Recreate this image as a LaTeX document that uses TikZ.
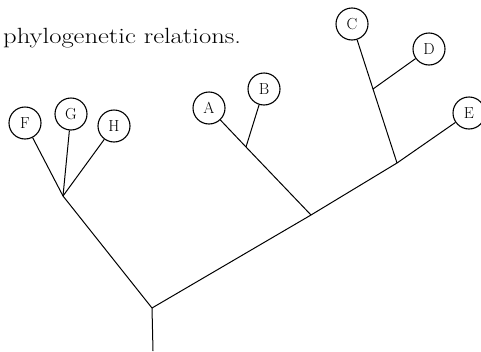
\documentclass[tikz,border=0pt]{standalone}
\usepackage{fontspec}
\usepackage{graphicx}
\begin{document}
\begin{tikzpicture}[x=1pt,y=-1pt,
  taxon/.style={circle,draw,line width=1.1pt,minimum size=32pt,inner sep=0pt,
    font=\fontsize{16}{16}\selectfont},
  branch/.style={line width=1pt},
  caption/.style={anchor=base west,inner sep=0pt,font=\fontsize{22}{24}\selectfont}]
\useasboundingbox (0,0) rectangle (481,351);

% heading
\node[caption] (title) at (3,43) {\scalebox{1.21}[1]{phylogenetic relations.}};

% terminal taxa
\node[taxon] (F) at (25,123) {F};
\node[taxon] (G) at (71,114) {G};
\node[taxon] (H) at (114,126) {H};
\node[taxon] (A) at (209,108) {A};
\node[taxon] (B) at (264,89) {B};
\node[taxon] (C) at (352,24) {C};
\node[taxon] (D) at (429,49) {D};
\node[taxon] (E) at (469,113) {E};

% internal branching points
\coordinate (base) at (153,351);
\coordinate (root) at (152,308);
\coordinate (fgh) at (63,196);
\coordinate (ab) at (311,215);
\coordinate (abs) at (246,147);
\coordinate (cde) at (397,163);
\coordinate (cd) at (373,89);

% branches
\draw[branch] (base) -- (root);
\draw[branch] (root) -- (fgh);
\draw[branch] (fgh) -- (F);
\draw[branch] (fgh) -- (G);
\draw[branch] (fgh) -- (H);
\draw[branch] (root) -- (ab) -- (cde) -- (E);
\draw[branch] (ab) -- (abs) -- (A);
\draw[branch] (abs) -- (B);
\draw[branch] (cde) -- (cd) -- (C);
\draw[branch] (cd) -- (D);
\end{tikzpicture}
\end{document}
